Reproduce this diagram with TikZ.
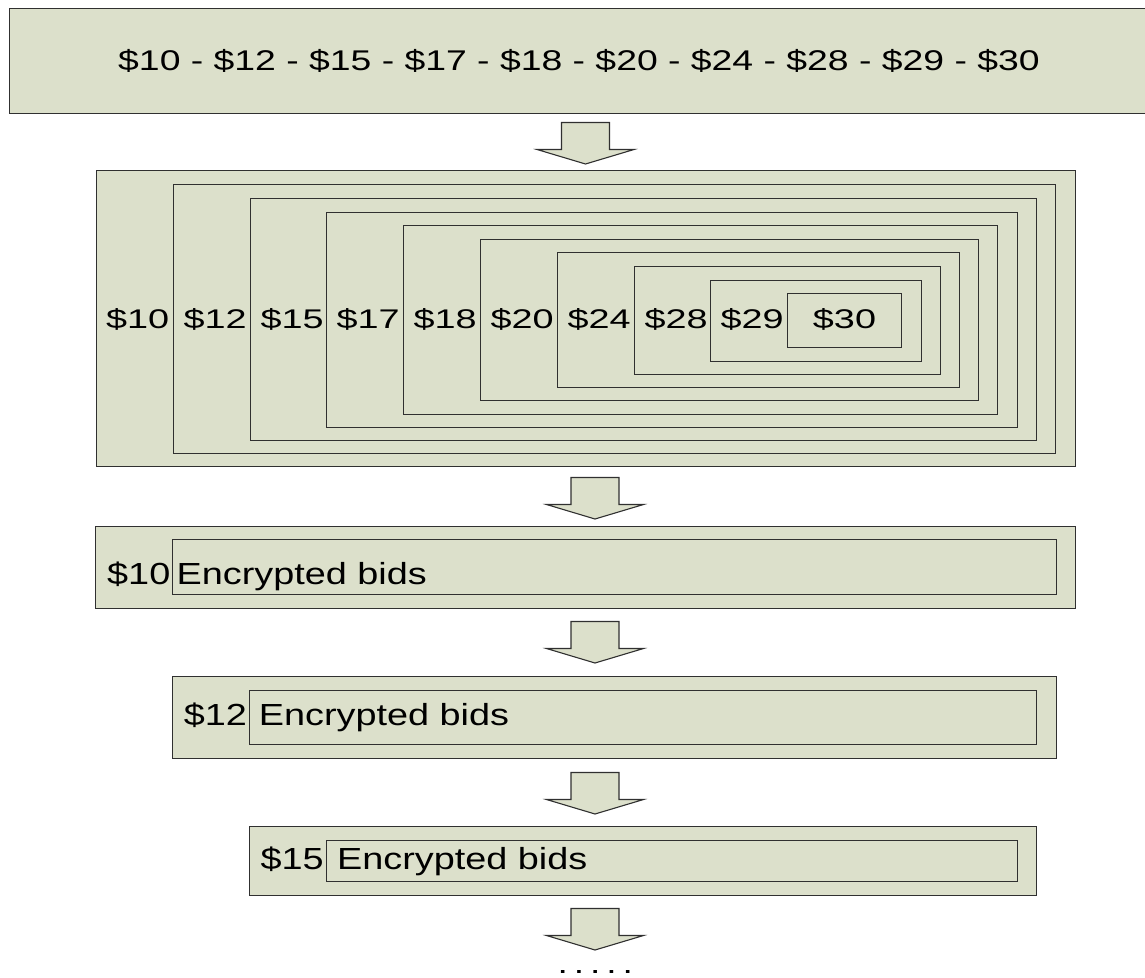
\documentclass[tikz,border=0pt]{standalone}
\usepackage{fontspec}
\setmainfont{Liberation Sans}
\usepackage{graphicx}
\definecolor{boxfill}{HTML}{DCE0CB}
\definecolor{boxline}{HTML}{303030}
% wide lettering: size, horizontal stretch, text
\newcommand{\widetext}[3]{\fontsize{#1}{#1}\selectfont\scalebox{#2}[1]{#3}}
% block arrow pointing down: centre x, top y
\newcommand{\downarrowblock}[2]{%
  \path[panel] (#1-24,#2) -- (#1+24,#2) -- (#1+24,#2+27) -- (#1+48.5,#2+27)
    -- (#1,#2+41.5) -- (#1-48.5,#2+27) -- (#1-24,#2+27) -- cycle;}
\begin{document}
\begin{tikzpicture}[x=1pt,y=-1pt,
  panel/.style={fill=boxfill, draw=boxline, line width=1.1pt, line join=miter},
  nestlabel/.style={inner sep=0pt, anchor=base west},
  rowlabel/.style={inner sep=0pt, anchor=base west}]
\useasboundingbox (0,0) rectangle (1145,977);

% price list banner (runs off the right edge)
\fill[boxfill] (9.5,8.5) rectangle (1150,113.5);
\draw[boxline, line width=1.3pt] (1150,8.5) -- (9.5,8.5) -- (9.5,113.5) -- (1150,113.5);
\node[inner sep=0pt, anchor=base] (prices) at (579,70)
  {\widetext{28.5}{1.31}{\$10 - \$12 - \$15 - \$17 - \$18 - \$20 - \$24 - \$28 - \$29 - \$30}};

\downarrowblock{585.5}{122.5}

% nested price boxes
\path[panel] (96.5,170.5) rectangle (1075.5,466.5);
\node[nestlabel] (n10) at (106,328) {\widetext{27}{1.4}{\$10}};
\foreach \k/\lab in {1/12,2/15,3/17,4/18,5/20,6/24,7/28,8/29,9/30} {
  \pgfmathsetmacro\L{round(172.7+(\k-1)*76.8)+0.5}
  \pgfmathsetmacro\T{round(184.3+(\k-1)*13.62)+0.5}
  \pgfmathsetmacro\R{round(1056-(\k-1)*19.2)-0.5}
  \pgfmathsetmacro\B{round(454.3-(\k-1)*13.25)-0.5}
  \path[panel] (\L,\T) rectangle (\R,\B);
  \ifnum\k<9
    \node[nestlabel] (n\lab) at (\L+10,328) {\widetext{27}{1.4}{\$\lab}};
  \else
    \node[inner sep=0pt, anchor=base] (n\lab) at ({(\L+\R)/2},328) {\widetext{27}{1.4}{\$\lab}};
  \fi
}

\downarrowblock{595}{477.5}

% first round
\path[panel] (95.5,526.5) rectangle (1075.5,608.5);
\path[panel] (172.5,539.5) rectangle (1056.5,594.5);
\node[rowlabel] (r10) at (107,584.3) {\widetext{30.5}{1.24}{\$10}};
\node[rowlabel] (e10) at (176.5,584.3) {\widetext{30.5}{1.24}{Encrypted bids}};

\downarrowblock{595}{621.5}

% second round
\path[panel] (172.5,676.5) rectangle (1056.5,758.5);
\path[panel] (249.5,690.5) rectangle (1036.5,744.5);
\node[rowlabel] (r12) at (183.7,725) {\widetext{30.5}{1.24}{\$12}};
\node[rowlabel] (e12) at (258.7,725) {\widetext{30.5}{1.24}{Encrypted bids}};

\downarrowblock{595}{772.5}

% third round
\path[panel] (249.5,826.5) rectangle (1036.5,895.5);
\path[panel] (326.5,840.5) rectangle (1017.5,881.5);
\node[rowlabel] (r15) at (260.4,869.3) {\widetext{30.5}{1.24}{\$15}};
\node[rowlabel] (e15) at (337,869.3) {\widetext{30.5}{1.24}{Encrypted bids}};

\downarrowblock{595}{908.5}

\node[inner sep=0pt, anchor=base] (more) at (595.3,973.5)
  {\widetext{28}{1.33}{.\kern4.4pt.\kern4.4pt.\kern4.4pt.\kern4.4pt.}};
\end{tikzpicture}
\end{document}
